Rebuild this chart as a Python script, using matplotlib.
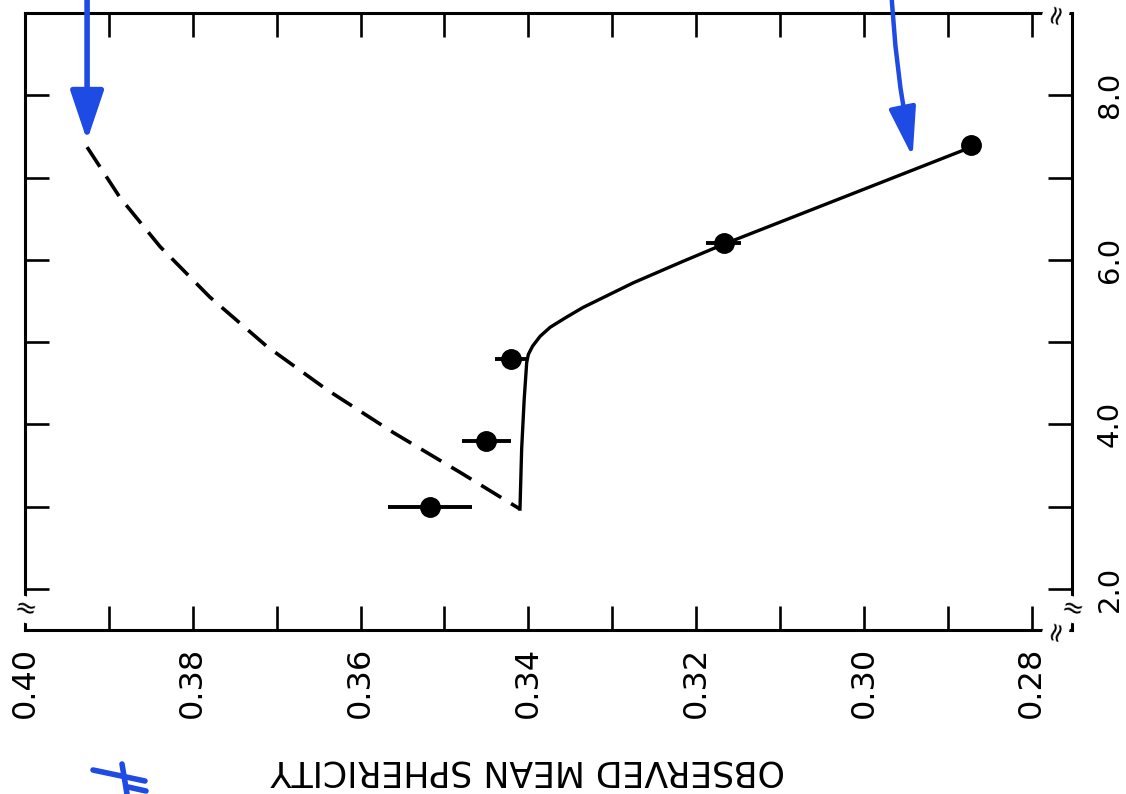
import numpy as np
import matplotlib
matplotlib.use("Agg")
import matplotlib.pyplot as plt
from matplotlib.patches import ArrowStyle

# observed points (mean sphericity vs. level), horizontal error bars
sphericity_obs = [0.3517, 0.3450, 0.3421, 0.3167, 0.2872]
level_obs = [3.0, 3.8, 4.8, 6.2, 7.4]
sphericity_err = [0.0050, 0.0029, 0.0019, 0.0021, 0.0]

# solid curve (fit through the data)
solid_s = [0.3410, 0.3408, 0.3405, 0.3402, 0.3400, 0.3395, 0.3386, 0.3374,
           0.3355, 0.3335, 0.3305, 0.3275, 0.3216, 0.3167, 0.2872]
solid_v = [2.97, 3.70, 4.30, 4.75, 4.85, 4.95, 5.07, 5.18,
           5.30, 5.42, 5.57, 5.72, 5.98, 6.19, 7.37]

# dashed curve
dash_s = [0.3926, 0.3887, 0.3839, 0.3780, 0.3712, 0.3640, 0.3561, 0.3482, 0.3410]
dash_v = [7.37, 6.76, 6.16, 5.55, 4.95, 4.42, 3.90, 3.42, 2.97]

x_ticks = [0.40, 0.39, 0.38, 0.37, 0.36, 0.35, 0.34, 0.33, 0.32, 0.31, 0.30, 0.29, 0.28]
x_labels = ["0.40", "", "0.38", "", "0.36", "", "0.34", "", "0.32", "", "0.30", "", "0.28"]
y_ticks = [2, 3, 4, 5, 6, 7, 8]
y_labels = ["2.0", "", "4.0", "", "6.0", "", "8.0"]

blue = "#1d4be3"

fig = plt.figure(figsize=(11.26, 7.94), dpi=100)
W, H = 1126, 794
ax = fig.add_axes([25 / W, 1 - 630 / H, (1072 - 25) / W, (630 - 13) / H])

ax.plot(dash_s, dash_v, color="black", lw=2.6, dashes=(6.5, 3.2))
ax.plot(solid_s, solid_v, color="black", lw=2.4)
ax.errorbar(sphericity_obs, level_obs, xerr=sphericity_err, fmt="o",
            color="black", ms=14, elinewidth=2.8, capsize=0)

ax.set_xlim(0.400, 0.2752)
ax.set_ylim(1.5, 9.0)

ax.set_xticks(x_ticks)
ax.set_xticklabels(x_labels, rotation=90, fontsize=23)
ax.set_yticks(y_ticks)
ax.set_yticklabels(y_labels, rotation=90, va="center", fontsize=21)

ax.tick_params(direction="in", length=17, width=1.9,
               top=True, bottom=True, left=True, right=True,
               labelleft=False, labelright=True)
ax.tick_params(axis="x", pad=12)
ax.tick_params(axis="y", pad=17)
for sp in ax.spines.values():
    sp.set_linewidth(2.2)

# axis breaks
brk = dict(fontsize=19, ha="center", va="center", clip_on=False,
           bbox=dict(fc="white", ec="none", pad=0.0))
ax.text(0.2771, 9.0, "≈", rotation=75, **brk)
ax.text(0.2771, 1.5, "≈", rotation=75, **brk)
ax.text(0.400, 1.75, "≈", rotation=-15, **brk)
ax.text(0.2752, 1.75, "≈", rotation=-15, **brk)

# upside-down axis label
fig.text(528 / W, 1 - 770 / H, "OBSERVED MEAN SPHERICITY", rotation=180,
         ha="center", va="center", fontsize=25)

# hand-drawn blue arrows
head = ArrowStyle("-|>", head_length=0.95, head_width=0.32)
ax.annotate("", xy=(0.3926, 7.45), xytext=(0.3926, 9.4),
            arrowprops=dict(arrowstyle=head, color=blue, lw=4, mutation_scale=32,
                            shrinkA=0, shrinkB=0),
            annotation_clip=False)
ax.annotate("", xy=(0.2942, 7.25), xytext=(0.2968, 9.4),
            arrowprops=dict(arrowstyle=ArrowStyle("-|>", head_length=0.95, head_width=0.26),
                            color=blue, lw=3.2, mutation_scale=32,
                            shrinkA=0, shrinkB=0, connectionstyle="arc3,rad=0.04"),
            annotation_clip=False)

# blue scribble bottom left
scribble = [([93, 145], [770, 781]), ([122, 127], [764, 794]), ([128, 146], [787, 791])]
for xs, ys in scribble:
    fig.add_artist(plt.Line2D(np.array(xs) / W, 1 - np.array(ys) / H,
                              transform=fig.transFigure, color=blue, lw=4,
                              solid_capstyle="round"))

fig.savefig("out.png", dpi=100)
